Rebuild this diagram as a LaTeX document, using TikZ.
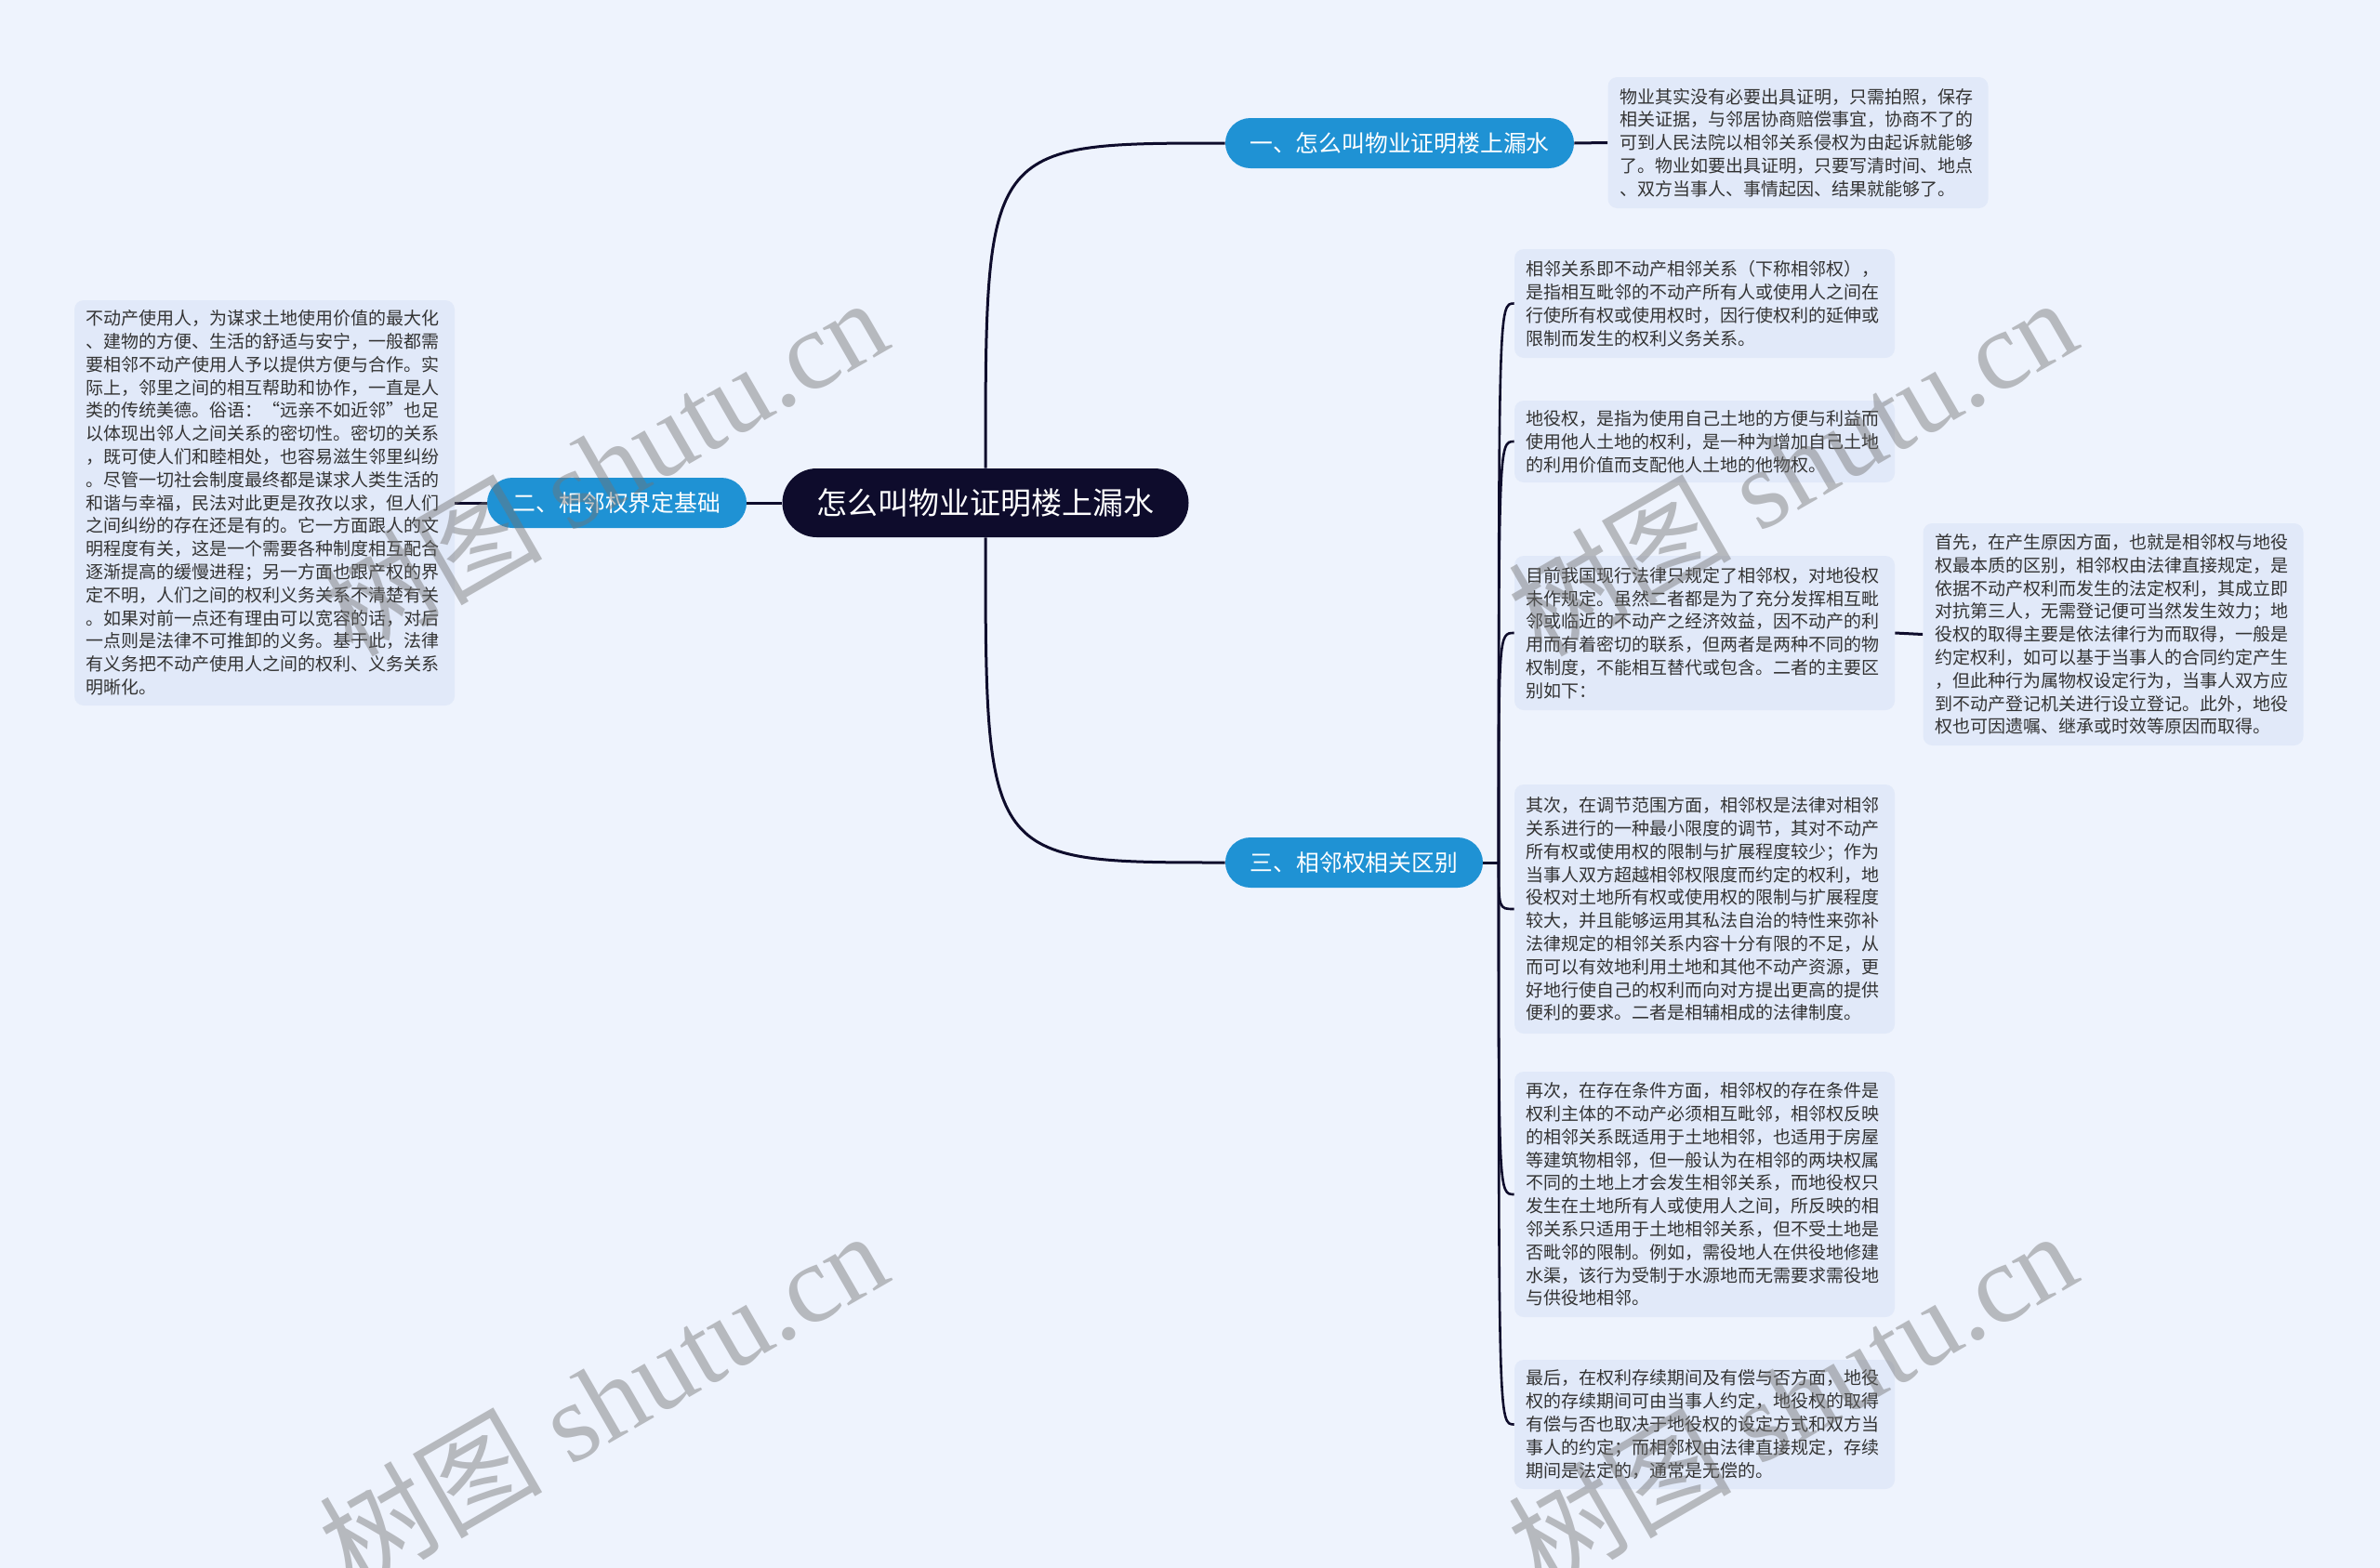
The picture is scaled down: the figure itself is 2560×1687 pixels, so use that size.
\documentclass[tikz,border=0pt]{standalone}
\usepackage{fontspec}
\newfontfamily\cjk{Noto Sans CJK SC}
\newfontfamily\wmserif{Liberation Serif}
\definecolor{bg}{HTML}{EEF3FD}
\definecolor{boxfill}{HTML}{E1E9F9}
\definecolor{bluenode}{HTML}{1F92D4}
\definecolor{rootfill}{HTML}{0E0C2C}
\definecolor{linecol}{HTML}{0E0C2C}
\definecolor{txt}{HTML}{333333}
\begin{document}
\begin{tikzpicture}[x=0.5pt,y=-0.5pt,
  txtbox/.style={rectangle, rounded corners=5pt, fill=boxfill, inner xsep=6.25pt, inner ysep=0pt,
    text width=192pt, align=left, text=txt, font=\cjk\fontsize{9.5}{12.4}\selectfont},
  topic/.style={rectangle, rounded corners=13.5pt, fill=bluenode, text=white,
    font=\cjk\fontsize{12.4}{14}\selectfont, minimum height=27pt, inner xsep=0pt, inner ysep=0pt},
  rootnode/.style={rectangle, rounded corners=18.5pt, fill=rootfill, text=white,
    font=\cjk\fontsize{16.5}{18}\selectfont, minimum height=37pt, minimum width=218.5pt, inner sep=0pt},
  conn/.style={draw=linecol, line width=1.5pt},
  subconn/.style={draw=linecol, line width=1.3pt},
  wm/.style={text=black!55, opacity=0.45, font=\wmserif\fontsize{60}{60}\selectfont, rotate=30, inner sep=0pt}
]
\useasboundingbox (0,0) rectangle (2560,1687);
\fill[bg] (0,0) rectangle (2560,1687);

% connectors from root (drawn first, hidden under nodes)
\coordinate (rc) at (1060,541);
\coordinate (b3) at (1612,928);

% main nodes
\node[rootnode] (root) at (1060,541) {怎么叫物业证明楼上漏水};
\node[topic, minimum width=187.5pt] (t1) at (1505.5,154) {一、怎么叫物业证明楼上漏水};
\node[topic, minimum width=139.5pt] (t2) at (663.5,541) {二、相邻权界定基础};
\node[topic, minimum width=138.5pt] (t3) at (1456.5,928) {三、相邻权相关区别};

% text boxes
\node[txtbox, minimum height=70.5pt] (a1) at (1934,153.5) {物业其实没有必要出具证明，只需拍照，保存\\相关证据，与邻居协商赔偿事宜，协商不了的\\可到人民法院以相邻关系侵权为由起诉就能够\\了。物业如要出具证明，只要写清时间、地点\\、双方当事人、事情起因、结果就能够了。};

\node[txtbox, minimum height=218pt] (l1) at (284.5,541) {不动产使用人，为谋求土地使用价值的最大化\\、建物的方便、生活的舒适与安宁，一般都需\\要相邻不动产使用人予以提供方便与合作。实\\际上，邻里之间的相互帮助和协作，一直是人\\类的传统美德。俗语：“远亲不如近邻”也足\\以体现出邻人之间关系的密切性。密切的关系\\，既可使人们和睦相处，也容易滋生邻里纠纷\\。尽管一切社会制度最终都是谋求人类生活的\\和谐与幸福，民法对此更是孜孜以求，但人们\\之间纠纷的存在还是有的。它一方面跟人的文\\明程度有关，这是一个需要各种制度相互配合\\逐渐提高的缓慢进程；另一方面也跟产权的界\\定不明，人们之间的权利义务关系不清楚有关\\。如果对前一点还有理由可以宽容的话，对后\\一点则是法律不可推卸的义务。基于此，法律\\有义务把不动产使用人之间的权利、义务关系\\明晰化。};

\node[txtbox, minimum height=58.5pt] (c1) at (1833.5,326.5) {相邻关系即不动产相邻关系（下称相邻权），\\是指相互毗邻的不动产所有人或使用人之间在\\行使所有权或使用权时，因行使权利的延伸或\\限制而发生的权利义务关系。};

\node[txtbox, minimum height=44pt] (c2) at (1833.5,475) {地役权，是指为使用自己土地的方便与利益而\\使用他人土地的权利，是一种为增加自己土地\\的利用价值而支配他人土地的他物权。};

\node[txtbox, minimum height=83pt] (c3) at (1833.5,681) {目前我国现行法律只规定了相邻权，对地役权\\未作规定。虽然二者都是为了充分发挥相互毗\\邻或临近的不动产之经济效益，因不动产的利\\用而有着密切的联系，但两者是两种不同的物\\权制度，不能相互替代或包含。二者的主要区\\别如下：};

\node[txtbox, minimum height=119.5pt] (d1) at (2273,682.5) {首先，在产生原因方面，也就是相邻权与地役\\权最本质的区别，相邻权由法律直接规定，是\\依据不动产权利而发生的法定权利，其成立即\\对抗第三人，无需登记便可当然发生效力；地\\役权的取得主要是依法律行为而取得，一般是\\约定权利，如可以基于当事人的合同约定产生\\，但此种行为属物权设定行为，当事人双方应\\到不动产登记机关进行设立登记。此外，地役\\权也可因遗嘱、继承或时效等原因而取得。};

\node[txtbox, minimum height=134pt] (c4) at (1833.5,978) {其次，在调节范围方面，相邻权是法律对相邻\\关系进行的一种最小限度的调节，其对不动产\\所有权或使用权的限制与扩展程度较少；作为\\当事人双方超越相邻权限度而约定的权利，地\\役权对土地所有权或使用权的限制与扩展程度\\较大，并且能够运用其私法自治的特性来弥补\\法律规定的相邻关系内容十分有限的不足，从\\而可以有效地利用土地和其他不动产资源，更\\好地行使自己的权利而向对方提出更高的提供\\便利的要求。二者是相辅相成的法律制度。};

\node[txtbox, minimum height=132pt] (c5) at (1833.5,1285) {再次，在存在条件方面，相邻权的存在条件是\\权利主体的不动产必须相互毗邻，相邻权反映\\的相邻关系既适用于土地相邻，也适用于房屋\\等建筑物相邻，但一般认为在相邻的两块权属\\不同的土地上才会发生相邻关系，而地役权只\\发生在土地所有人或使用人之间，所反映的相\\邻关系只适用于土地相邻关系，但不受土地是\\否毗邻的限制。例如，需役地人在供役地修建\\水渠，该行为受制于水源地而无需要求需役地\\与供役地相邻。};

\node[txtbox, minimum height=69.5pt] (c6) at (1833.5,1532.5) {最后，在权利存续期间及有偿与否方面，地役\\权的存续期间可由当事人约定，地役权的取得\\有偿与否也取决于地役权的设定方式和双方当\\事人的约定；而相邻权由法律直接规定，存续\\期间是法定的，通常是无偿的。};

% connectors
\begin{scope}[on background layer/.style={}]
\end{scope}
\draw[conn] (root.north) .. controls (1060,154) and (1060,154) .. (t1.west);
\draw[conn] (root.south) .. controls (1060,928) and (1060,928) .. (t3.west);
\draw[conn] (root.west) -- (t2.east);
\draw[conn] (t2.west) -- (l1.east);
\draw[conn] (t1.east) -- (a1.west);
\draw[conn] (t3.east) -- (b3);
\foreach \n/\yy in {c1/326.5, c2/475, c3/681, c4/978, c5/1285, c6/1532.5}{
  \draw[subconn] (b3) .. controls (1612,\yy) and (1612,\yy) .. (\n.west);
}
\draw[conn] (c3.east) -- (d1.west);

% watermarks
\node[wm] (w1) at (648,501) {{\cjk 树图} shutu.cn};
\node[wm] (w2) at (1927,501) {{\cjk 树图} shutu.cn};
\node[wm] (w3) at (648,1505) {{\cjk 树图} shutu.cn};
\node[wm] (w4) at (1927,1505) {{\cjk 树图} shutu.cn};
\end{tikzpicture}
\end{document}
